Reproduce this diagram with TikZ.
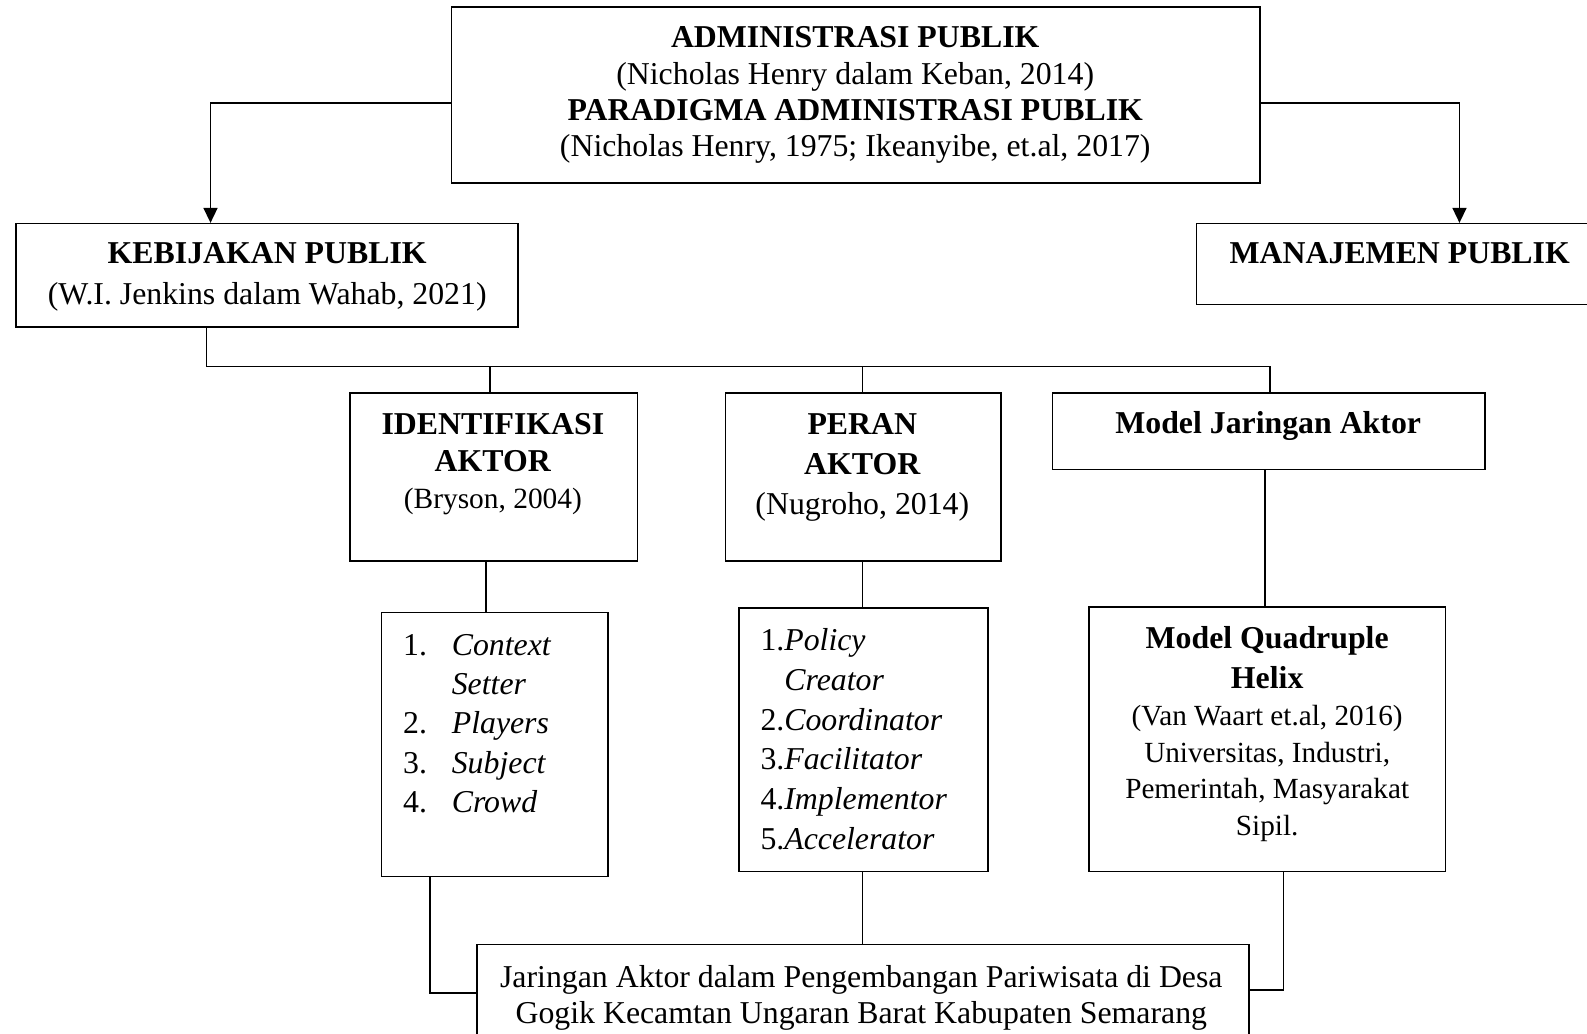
\documentclass[tikz,border=0pt]{standalone}
\usepackage{fontspec}
\setmainfont{Liberation Serif}
\usetikzlibrary{arrows.meta,fit}
\newcommand{\smallq}{\fontsize{14.6}{18.2}\selectfont}
\begin{document}
\begin{tikzpicture}[x=0.506pt,y=-0.506pt,
  box/.style={draw,line width=0.8pt,inner sep=0pt},
  txt/.style={inner sep=0pt,align=center},
  ln/.style={line width=0.8pt},
  arr/.style={line width=0.8pt,-{Triangle[length=7.5pt,width=7pt]}}]
\useasboundingbox (0,0) rectangle (1568,1021);
% boxes
\node[box, fit={(446,7) (1245,181)}] (top) {};
\node[box, fit={(16,221) (512,323)}] (keb) {};
\node[box, fit={(1182,221) (1600,301)}] (man) {};
\node[box, fit={(346,388) (630,554)}] (ident) {};
\node[box, fit={(717,388) (989,554)}] (peran) {};
\node[box, fit={(1040,388) (1467,464)}] (mja) {};
\node[box, fit={(377,605) (601,866)}] (l1) {};
\node[box, fit={(730,601) (976,861)}] (l2) {};
\node[box, fit={(1076,600) (1428,861)}] (quad) {};
\node[box, fit={(471,933) (1234,1060)}] (bot) {};
% texts
\node[txt, anchor=north, font=\fontsize{15.9}{18.2}\selectfont] (topt) at (845,26)
  {\textbf{ADMINISTRASI PUBLIK}\\(Nicholas Henry dalam Keban, 2014)\\\textbf{PARADIGMA ADMINISTRASI PUBLIK}\\(Nicholas Henry, 1975; Ikeanyibe, et.al, 2017)};
\node[txt, anchor=north, font=\fontsize{15.9}{20.7}\selectfont] (kebt) at (264,239)
  {\textbf{KEBIJAKAN PUBLIK}\\(W.I. Jenkins dalam Wahab, 2021)};
\node[txt, anchor=north, font=\fontsize{15.9}{18.2}\selectfont] (mant) at (1383,239)
  {\textbf{MANAJEMEN PUBLIK}};
\node[txt, anchor=north, font=\fontsize{15.9}{18.5}\selectfont] (identt) at (487,408)
  {\textbf{IDENTIFIKASI}\\\textbf{AKTOR}\\{\fontsize{14.7}{18.5}\selectfont (Bryson, 2004)}};
\node[txt, anchor=north, font=\fontsize{15.9}{20}\selectfont] (perant) at (852,408)
  {\textbf{PERAN}\\\textbf{AKTOR}\\(Nugroho, 2014)};
\node[txt, anchor=north, font=\fontsize{15.9}{18.2}\selectfont] (mjat) at (1253,406)
  {\textbf{Model Jaringan Aktor}};
\node[txt, anchor=north west, align=left, font=\fontsize{15.9}{19.7}\selectfont] (l1t) at (398,626)
  {\makebox[24.3pt][l]{1.}\textit{Context}\\\hspace*{24.3pt}\textit{Setter}\\\makebox[24.3pt][l]{2.}\textit{Players}\\\makebox[24.3pt][l]{3.}\textit{Subject}\\\makebox[24.3pt][l]{4.}\textit{Crowd}};
\node[txt, anchor=north west, align=left, font=\fontsize{15.9}{19.8}\selectfont] (l2t) at (751,621)
  {1.\textit{Policy}\\\phantom{1.}\textit{Creator}\\2.\textit{Coordinator}\\3.\textit{Facilitator}\\4.\textit{Implementor}\\5.\textit{Accelerator}};
\node[txt, anchor=north, font=\fontsize{15.9}{18.4}\selectfont] (quadt) at (1252,619)
  {\textbf{Model Quadruple}\\[1.4pt]\textbf{Helix}\\{\smallq (Van Waart et.al, 2016)}\\{\smallq Universitas, Industri,}\\{\smallq Pemerintah, Masyarakat}\\{\smallq Sipil.}};
\node[txt, anchor=north, font=\fontsize{15.9}{18.2}\selectfont] (bott) at (851,953)
  {Jaringan Aktor dalam Pengembangan Pariwisata di Desa\\Gogik Kecamtan Ungaran Barat Kabupaten Semarang};
% connectors
\draw[arr] (top.west |- 0,102) -| (keb.north -| 208,0);
\draw[arr] (top.east |- 0,102) -| (man.north -| 1442,0);
\coordinate (busL) at (204,362);
\coordinate (busR) at (1255,362);
\coordinate (busI) at (484,362);
\coordinate (busP) at (852,362);
\draw[ln] (keb.south -| busL) -- (busL) -- (busR) -- (mja.north -| busR);
\draw[ln] (busI) -- (ident.north -| busI);
\draw[ln] (busP) -- (peran.north -| busP);
\draw[ln] (ident.south -| 480,0) -- (l1.north -| 480,0);
\draw[ln] (peran.south -| 852,0) -- (l2.north -| 852,0);
\draw[ln] (mja.south -| 1250,0) -- (quad.north -| 1250,0);
\draw[ln] (l1.south -| 425,0) |- (bot.west |- 0,981);
\draw[ln] (l2.south -| 852,0) -- (bot.north -| 852,0);
\draw[ln] (quad.south -| 1268,0) |- (bot.east |- 0,978);
\end{tikzpicture}
\end{document}
